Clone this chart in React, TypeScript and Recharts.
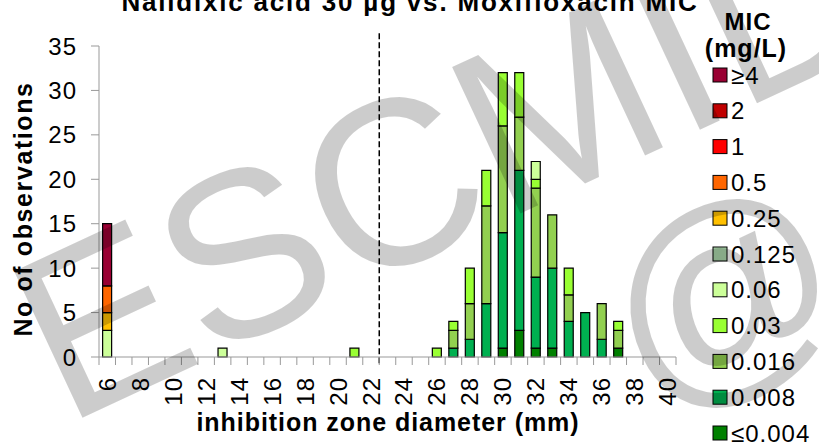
import { BarChart, Bar, XAxis, YAxis, ReferenceLine, Label } from "recharts"

// inhibition zone diameters (mm), one category per mm
const diameters = [
  6, 7, 8, 9, 10, 11, 12, 13, 14, 15, 16, 17, 18, 19, 20, 21, 22, 23,
  24, 25, 26, 27, 28, 29, 30, 31, 32, 33, 34, 35, 36, 37, 38, 39, 40,
]

// MIC classes, bottom of the stack first
const micLabels = ["≤0.004", "0.008", "0.016", "0.03", "0.06", "0.125", "0.25", "0.5", "1", "2", "≥4"]
const micColors = [
  "#008000", "#00B050", "#92D050", "#99FF33", "#CCFF99", "#A9D5A9",
  "#FFC000", "#FF6600", "#FF0000", "#C00000", "#990033",
]

// counts per diameter (6..40 mm)
const mic004 = [0,0,0,0,0, 0,0,0,0,0, 0,0,0,0,0, 0,0,0,0,0, 0,0,0,0,1, 3,1,1,0,0, 0,1,0,0,0]
const mic008 = [0,0,0,0,0, 0,0,0,0,0, 0,0,0,0,0, 0,0,0,0,0, 0,1,2,6,13, 18,8,9,4,5, 2,0,0,0,0]
const mic016 = [0,0,0,0,0, 0,0,0,0,0, 0,0,0,0,0, 0,0,0,0,0, 0,2,4,11,12, 6,10,6,3,0, 4,2,0,0,0]
const mic03 = [0,0,0,0,0, 0,0,0,0,0, 0,0,0,0,0, 1,0,0,0,0, 1,1,4,4,6, 5,1,0,3,0, 0,1,0,0,0]
const mic06 = [3,0,0,0,0, 0,0,1,0,0, 0,0,0,0,0, 0,0,0,0,0, 0,0,0,0,0, 0,2,0,0,0, 0,0,0,0,0]
const mic125 = [0,0,0,0,0, 0,0,0,0,0, 0,0,0,0,0, 0,0,0,0,0, 0,0,0,0,0, 0,0,0,0,0, 0,0,0,0,0]
const mic25 = [2,0,0,0,0, 0,0,0,0,0, 0,0,0,0,0, 0,0,0,0,0, 0,0,0,0,0, 0,0,0,0,0, 0,0,0,0,0]
const mic5 = [3,0,0,0,0, 0,0,0,0,0, 0,0,0,0,0, 0,0,0,0,0, 0,0,0,0,0, 0,0,0,0,0, 0,0,0,0,0]
const mic1 = [0,0,0,0,0, 0,0,0,0,0, 0,0,0,0,0, 0,0,0,0,0, 0,0,0,0,0, 0,0,0,0,0, 0,0,0,0,0]
const mic2 = [0,0,0,0,0, 0,0,0,0,0, 0,0,0,0,0, 0,0,0,0,0, 0,0,0,0,0, 0,0,0,0,0, 0,0,0,0,0]
const mic4 = [7,0,0,0,0, 0,0,0,0,0, 0,0,0,0,0, 0,0,0,0,0, 0,0,0,0,0, 0,0,0,0,0, 0,0,0,0,0]

const yTicks = [0, 5, 10, 15, 20, 25, 30, 35]
const breakpoint = 22 // dashed line sits on the right edge of this category

const seriesValues = [mic004, mic008, mic016, mic03, mic06, mic125, mic25, mic5, mic1, mic2, mic4]
const keys = micLabels.map((_, i) => "k" + i)

const rows = diameters.map((mm, i) => {
  const row: Record<string, number> = { mm }
  keys.forEach((k, j) => (row[k] = seriesValues[j][i]))
  return row
})

const W = 819
const H = 444
const M = { top: 46, right: 143, bottom: 0, left: 0 }
const Y_WIDTH = 99
const BAND = (W - M.right - Y_WIDTH) / diameters.length
const AXIS = "#999999"
const FONT = "'Liberation Sans', Arial, sans-serif"

function DiameterTick(props: any) {
  const { x, y, payload, index } = props
  const half = BAND / 2
  return (
    <g>
      <line x1={x - half} x2={x - half} y1={y} y2={y + 8} stroke={AXIS} />
      {index === diameters.length - 1 && (
        <line x1={x + half} x2={x + half} y1={y} y2={y + 8} stroke={AXIS} />
      )}
      {payload.value % 2 === 0 && (
        <text
          transform={`translate(${x},${y + 20}) rotate(-90)`}
          textAnchor="end"
          dominantBaseline="central"
          fontSize={24}
          letterSpacing={1}
          fill="#000"
        >
          {payload.value}
        </text>
      )}
    </g>
  )
}

export default function App() {
  return (
    <div style={{ position: "absolute", left: 0, top: 0, width: W, height: H, background: "#fff", fontFamily: FONT, overflow: "hidden" }}>
      <BarChart width={W} height={H} data={rows} margin={M} barCategoryGap="22%">
        <XAxis
          dataKey="mm"
          interval={0}
          tickSize={0}
          tickMargin={0}
          tickLine={false}
          axisLine={{ stroke: AXIS }}
          height={87}
          tick={<DiameterTick />}
        >
          <Label
            content={() => (
              <text x={388} y={431} textAnchor="middle" fontSize={25} fontWeight="bold" letterSpacing={0.95} fill="#000">
                inhibition zone diameter (mm)
              </text>
            )}
          />
        </XAxis>
        <YAxis
          type="number"
          domain={[0, 35]}
          ticks={yTicks}
          width={Y_WIDTH}
          tickSize={8}
          tickMargin={14}
          axisLine={{ stroke: AXIS }}
          tickLine={{ stroke: AXIS }}
          tick={{ fontSize: 24, fill: "#000", letterSpacing: 1 }}
        >
          <Label
            content={() => (
              <text transform="translate(32,209) rotate(-90)" textAnchor="middle" fontSize={25} fontWeight="bold" letterSpacing={1.6} fill="#000">
                No of observations
              </text>
            )}
          />
        </YAxis>
        {keys.map((k, j) => (
          <Bar key={k} dataKey={k} stackId="mic" fill={micColors[j]} stroke="#000" strokeWidth={1.2} isAnimationActive={false} />
        ))}
        <ReferenceLine
          segment={[{ x: breakpoint, y: -0.7 }, { x: breakpoint, y: 36.6 }]}
          position="end"
          ifOverflow="visible"
          stroke="#000"
          strokeWidth={1.5}
          strokeDasharray="6 3"
        />
      </BarChart>

      <svg width={W} height={H} style={{ position: "absolute", left: 0, top: 0, pointerEvents: "none" }}>
        <text x={410} y={11} textAnchor="middle" fontSize={26} fontWeight="bold" letterSpacing={1.8} fill="#000">
          Nalidixic acid 30 µg vs. Moxifloxacin MIC
        </text>
        <text x={748} y={30} textAnchor="middle" fontSize={24} fontWeight="bold" letterSpacing={1} fill="#000">MIC</text>
        <text x={746} y={57} textAnchor="middle" fontSize={25} fontWeight="bold" letterSpacing={1} fill="#000">(mg/L)</text>
        {micLabels
          .map((label, i) => ({ label, color: micColors[i] }))
          .reverse()
          .map((item, i) => {
            const cy = 75 + i * 35.8
            return (
              <g key={item.label}>
                <rect x={713} y={cy - 7} width={14} height={14} fill={item.color} stroke="#000" strokeWidth={1} />
                <text x={731} y={cy + 8.5} fontSize={24} letterSpacing={1} fill="#000">{item.label}</text>
              </g>
            )
          })}
        <g fill="#000" fillOpacity={0.2}>
          <text transform="translate(65,426) rotate(-25)" fontSize={235}>ESCMID</text>
          <text transform="translate(649,414) rotate(-25)" fontSize={230}>@</text>
        </g>
      </svg>
    </div>
  )
}
